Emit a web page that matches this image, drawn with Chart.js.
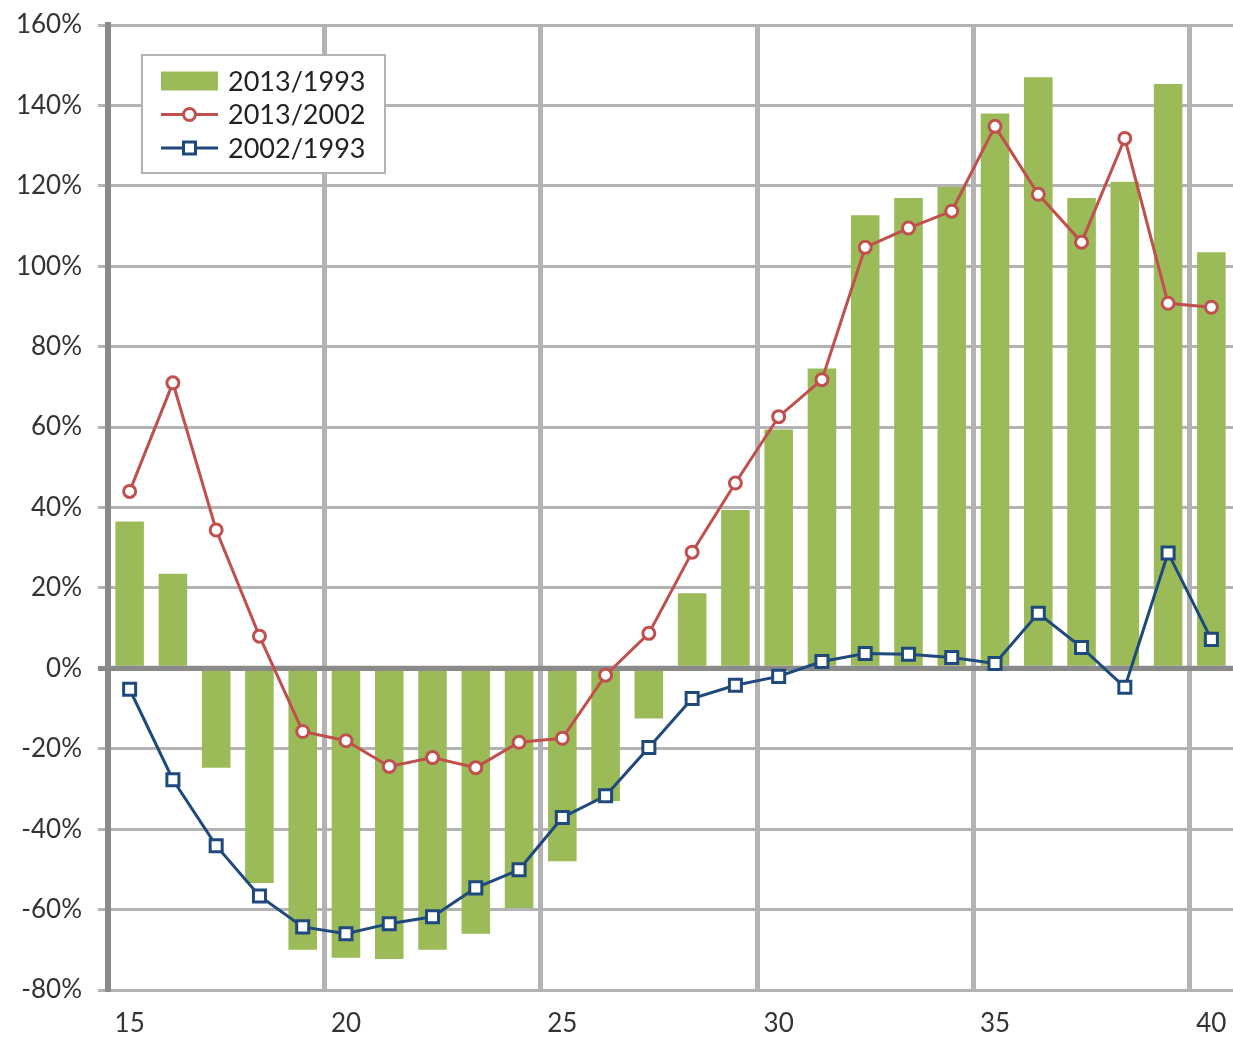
<!DOCTYPE html>
<html>
<head>
<meta charset="utf-8">
<script src="https://cdn.jsdelivr.net/npm/chart.js@4.4.1/dist/chart.umd.min.js"></script>
<style>
  html, body { margin: 0; padding: 0; background: #fff; }
  #wrap { width: 1233px; height: 1037px; }
</style>
</head>
<body>
<div id="wrap"><canvas id="ratioChart" width="1233" height="1037"></canvas></div>
<script>
// x categories (age)
const ages = [15, 16, 17, 18, 19, 20, 21, 22, 23, 24, 25, 26, 27, 28, 29, 30, 31, 32, 33, 34, 35, 36, 37, 38, 39, 40];

// values, in %
const r2013_1993 = [36.5, 23.5, -24.7, -53.4, -70, -72, -72.3, -70, -66, -59.6, -48, -33, -12.5, 18.7, 39.4, 59.4, 74.6, 112.7, 117, 119.7, 138, 147, 117, 121, 145.3, 103.5];
const r2013_2002 = [44, 71, 34.4, 8, -15.7, -18, -24.4, -22.2, -24.7, -18.4, -17.4, -1.7, 8.7, 28.9, 46.1, 62.6, 71.8, 104.7, 109.5, 113.7, 134.8, 117.9, 106, 131.8, 90.8, 89.8];
const r2002_1993 = [-5.2, -27.7, -44.1, -56.6, -64.3, -66, -63.5, -61.8, -54.6, -50.1, -37.1, -31.7, -19.7, -7.5, -4.2, -2, 1.7, 3.7, 3.5, 2.7, 1.2, 13.7, 5.2, -4.7, 28.7, 7.2];

// y axis ticks
const yMin = -80;
const yMax = 160;
const yStep = 20;

const green = '#9bbb59';
const red = '#c0504d';
const blue = '#1f497d';
const gridGray = '#b3b3b3';
const axisGray = '#8a8a8a';
const fontFam = 'Lato, "Open Sans", sans-serif';

//scales should not push the plot area in
function noPad(s) {
  s.paddingTop = 0;
  s.paddingBottom = 0;
  s.paddingLeft = 0;
  s.paddingRight = 0;
}

//zero line goes over the bars but under the lines
const zeroLine = {
  id: 'zeroLine',
  afterDatasetDraw(chart, args) {
    if (args.index !== 0) return;
    const c = chart.ctx;
    const a = chart.chartArea;
    const y = chart.scales.y.getPixelForValue(0);
    c.save();
    c.strokeStyle = axisGray;
    c.lineWidth = 5;
    c.beginPath();
    c.moveTo(a.left, y);
    c.lineTo(a.right, y);
    c.stroke();
    c.restore();
  }
};

//legend in a framed box inside the plot
const boxLegend = {
  id: 'boxLegend',
  afterDraw(chart) {
    const c = chart.ctx;
    const a = chart.chartArea;
    const x = a.left + 34, y = a.top + 30, w = 243, h = 118;
    c.save();
    c.fillStyle = '#fff';
    c.fillRect(x, y, w, h);
    c.strokeStyle = gridGray;
    c.lineWidth = 2;
    c.strokeRect(x, y, w, h);
    chart.data.datasets.forEach((ds, i) => {
      const cy = y + 26 + i * 33.5;
      const sx = x + 19;
      if (ds.type === 'bar') {
        c.fillStyle = ds.backgroundColor;
        c.fillRect(sx, cy - 9.5, 57, 19);
      } else {
        c.strokeStyle = ds.borderColor;
        c.lineWidth = 3;
        c.beginPath();
        c.moveTo(sx, cy);
        c.lineTo(sx + 57, cy);
        c.stroke();
        c.fillStyle = '#fff';
        c.beginPath();
        if (ds.pointStyle === 'rect') {
          c.rect(sx + 28.5 - 6, cy - 6, 12, 12);
        } else {
          c.arc(sx + 28.5, cy, 6, 0, Math.PI * 2);
        }
        c.fill();
        c.stroke();
      }
      c.fillStyle = '#222';
      c.font = '27px ' + fontFam;
      c.textBaseline = 'middle';
      c.textAlign = 'left';
      c.fillText(ds.label, x + 86, cy + 1);
    });
    c.restore();
  }
};

const ctx = document.getElementById('ratioChart');

new Chart(ctx, {
  data: {
    labels: ages,
    datasets: [
      {
        type: 'bar',
        label: '2013/1993',
        data: r2013_1993,
        backgroundColor: green,
        categoryPercentage: 1,
        barPercentage: 0.66,
        order: 2
      },
      {
        type: 'line',
        label: '2013/2002',
        data: r2013_2002,
        borderColor: red,
        borderWidth: 3,
        pointStyle: 'circle',
        pointRadius: 6,
        pointBorderWidth: 3,
        pointBackgroundColor: '#fff',
        pointBorderColor: red,
        tension: 0,
        order: 1
      },
      {
        type: 'line',
        label: '2002/1993',
        data: r2002_1993,
        borderColor: blue,
        borderWidth: 3,
        pointStyle: 'rect',
        pointRadius: 8.5,
        pointBorderWidth: 3,
        pointBackgroundColor: '#fff',
        pointBorderColor: blue,
        tension: 0,
        order: 0
      }
    ]
  },
  options: {
    responsive: false,
    animation: false,
    devicePixelRatio: 1,
    layout: { autoPadding: false, padding: { top: 25, right: 0, bottom: 0, left: 0 } },
    plugins: {
      legend: { display: false },
      tooltip: { enabled: false }
    },
    scales: {
      x: {
        offset: true,
        afterFit: s => { s.height = 47; noPad(s); },
        grid: {
          offset: true,
          drawTicks: false,
          lineWidth: 5,
          color: c => (c.index !== undefined && c.index > 0 && c.index % 5 === 0) ? gridGray : 'rgba(0,0,0,0)'
        },
        border: { display: false },
        ticks: {
          autoSkip: false,
          maxRotation: 0,
          padding: 18,
          color: '#333',
          font: { family: fontFam, size: 26 },
          callback: function (val) {
            const lab = this.getLabelForValue(val);
            return lab % 5 === 0 ? lab : '';
          }
        }
      },
      y: {
        min: yMin,
        max: yMax,
        afterFit: s => { s.width = 108; noPad(s); },
        grid: {
          lineWidth: c => c.tick && c.tick.value === 0 ? 5 : 3,
          color: c => c.tick && c.tick.value === 0 ? axisGray : gridGray,
          tickLength: 10
        },
        border: { color: axisGray, width: 6 },
        ticks: {
          stepSize: yStep,
          padding: 16,
          color: '#333',
          font: { family: fontFam, size: 26 },
          callback: v => v + '%'
        }
      }
    }
  },
  plugins: [zeroLine, boxLegend]
});
</script>
</body>
</html>
